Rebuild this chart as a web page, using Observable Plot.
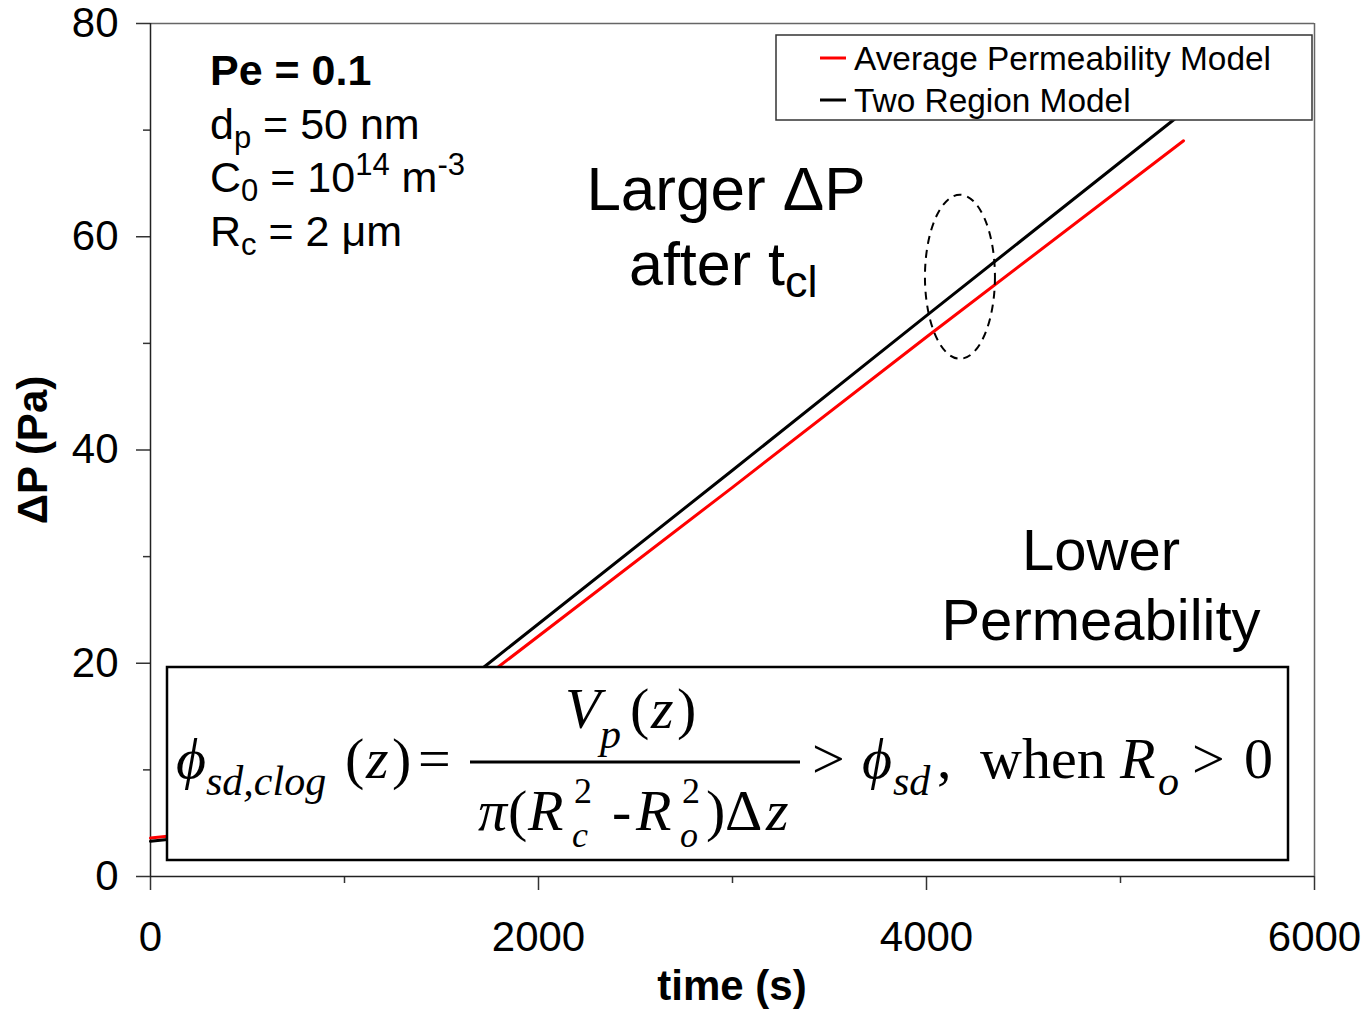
<!DOCTYPE html>
<html>
<head>
<meta charset="utf-8">
<script src="https://cdn.jsdelivr.net/npm/d3@7"></script>
<script src="https://cdn.jsdelivr.net/npm/@observablehq/plot@0.6"></script>
<style>
  html, body { margin: 0; padding: 0; background: #fff; }
  #chart { width: 1372px; height: 1009px; }
</style>
</head>
<body>
<div id="chart"></div>
<script>
// ---- data ----
const seriesNames = ["Average Permeability Model", "Two Region Model"];
const seriesColors = ["#ff0000", "#000000"];
const timeAvg = [0, 100, 500, 900, 1300, 1789, 3000, 4000, 5325];
const dpAvg   = [3.6, 3.8, 5.0, 8.0, 12.8, 19.6, 36.5, 50.6, 69.0];
const timeTwo = [0, 100, 500, 900, 1300, 1716, 3000, 4000, 5325];
const dpTwo   = [3.3, 3.5, 4.8, 7.8, 13.2, 19.6, 38.1, 52.6, 71.7];
const xMajorTicks = [0, 2000, 4000, 6000];
const xMinorTicks = [1000, 3000, 5000];
const yMajorTicks = [0, 20, 40, 60, 80];
const yMinorTicks = [10, 30, 50, 70];

const avgData = timeAvg.map((t, i) => ({time: t, dp: dpAvg[i], series: seriesNames[0]}));
const twoData = timeTwo.map((t, i) => ({time: t, dp: dpTwo[i], series: seriesNames[1]}));

const FONT = "'Liberation Sans', Arial, sans-serif";
const SERIF = "'Liberation Serif', 'Times New Roman', serif";

const plot = Plot.plot({
  width: 1372, height: 1009,
  marginLeft: 150, marginRight: 58, marginTop: 23, marginBottom: 133,
  style: {fontFamily: FONT, background: "#fff", color: "#000", overflow: "visible"},
  x: {domain: [0, 6000]},
  y: {domain: [0, 80]},
  marks: [
    Plot.ruleY([80], {stroke: "#666", strokeWidth: 1.5}),
    Plot.ruleX([6000], {stroke: "#666", strokeWidth: 1.5}),
    Plot.axisX({ticks: xMinorTicks, tickSize: 7, text: null, stroke: "#333", strokeWidth: 1.5, label: null}),
    Plot.axisY({ticks: yMinorTicks, tickSize: 7, text: null, stroke: "#333", strokeWidth: 1.5, label: null}),
    Plot.axisX({ticks: xMajorTicks, tickSize: 14, tickPadding: 31, fontSize: 42, stroke: "#333", strokeWidth: 1.5, fill: "#000", label: null, tickFormat: d => String(d)}),
    Plot.axisY({ticks: yMajorTicks, tickSize: 14, tickPadding: 18, fontSize: 42, stroke: "#333", strokeWidth: 1.5, fill: "#000", label: null, tickFormat: d => String(d)}),
    Plot.ruleX([0], {stroke: "#222", strokeWidth: 1.5}),
    Plot.ruleY([0], {stroke: "#222", strokeWidth: 1.5}),
    Plot.line(avgData, {x: "time", y: "dp", stroke: seriesColors[0], strokeWidth: 3}),
    Plot.line(twoData, {x: "time", y: "dp", stroke: seriesColors[1], strokeWidth: 3})
  ]
});
document.getElementById("chart").appendChild(plot);

const svg = d3.select(plot);
const xs = plot.scale("x"), ys = plot.scale("y");

function txt(x, y, str, o = {}) {
  return svg.append("text")
    .attr("x", x).attr("y", y)
    .attr("font-family", o.family || FONT)
    .attr("font-size", o.size || 42)
    .attr("font-weight", o.weight || "normal")
    .attr("font-style", o.italic ? "italic" : "normal")
    .attr("text-anchor", o.anchor || "start")
    .attr("fill", "#000")
    .text(str);
}

// axis titles
txt(732, 1000, "time (s)", {weight: "bold", anchor: "middle", size: 42});
svg.append("text")
  .attr("transform", "translate(47,450) rotate(-90)")
  .attr("font-family", FONT).attr("font-size", 42).attr("font-weight", "bold")
  .attr("text-anchor", "middle").text("ΔP (Pa)");

// dashed ellipse
svg.append("ellipse")
  .attr("cx", xs.apply(4175)).attr("cy", ys.apply(56.2))
  .attr("rx", 35).attr("ry", 82)
  .attr("fill", "none").attr("stroke", "#000").attr("stroke-width", 2)
  .attr("stroke-dasharray", "8,6");

// legend
svg.append("rect").attr("x", 776).attr("y", 35).attr("width", 536).attr("height", 85)
  .attr("fill", "#fff").attr("stroke", "#333").attr("stroke-width", 1.5);
seriesNames.forEach((name, i) => {
  const y = 58 + i * 42;
  svg.append("line").attr("x1", 820).attr("x2", 846).attr("y1", y).attr("y2", y)
    .attr("stroke", seriesColors[i]).attr("stroke-width", 3);
  txt(854, y + 12, name, {size: 33.4});
});

// parameter block
txt(210, 85, "Pe = 0.1", {weight: "bold", size: 43});
{
  const t = txt(210, 139, "d", {size: 43});
  t.append("tspan").attr("font-size", 31).attr("dy", 9).text("p");
  t.append("tspan").attr("dy", -9).text(" = 50 nm");
}
{
  const t = txt(210, 192, "C", {size: 43});
  t.append("tspan").attr("font-size", 31).attr("dy", 9).text("0");
  t.append("tspan").attr("dy", -9).text(" = 10");
  t.append("tspan").attr("font-size", 31).attr("dy", -17).text("14");
  t.append("tspan").attr("dy", 17).text(" m");
  t.append("tspan").attr("font-size", 31).attr("dy", -17).text("-3");
}
{
  const t = txt(210, 246, "R", {size: 43});
  t.append("tspan").attr("font-size", 31).attr("dy", 9).text("c");
  t.append("tspan").attr("dy", -9).text(" = 2 μm");
}

// annotations
txt(726, 210, "Larger ΔP", {size: 62, anchor: "middle"});
{
  const t = txt(629, 285, "after t", {size: 61});
  t.append("tspan").attr("font-size", 45).attr("dy", 12).text("cl");
}
txt(1101, 570, "Lower", {size: 58, anchor: "middle"});
txt(1101, 640, "Permeability", {size: 58, anchor: "middle"});

// equation box
svg.append("rect").attr("x", 167).attr("y", 667).attr("width", 1121).attr("height", 193)
  .attr("fill", "#fff").attr("stroke", "#000").attr("stroke-width", 2.5);

const S = 58, s = 42, ss = 36, B = 778;
const E = (x, y, str, size, italic, anchor) => txt(x, y, str, {family: SERIF, size, italic, anchor});
// left side
E(176, B, "ϕ", S, true);
E(206, B + 17, "sd,clog", s, true);
E(345, B, "(", S, false);
E(366, B, "z", S, true);
E(392, B, ")", S, false);
E(418, B, "=", S, false);
// fraction
svg.append("line").attr("x1", 470).attr("x2", 800).attr("y1", 762).attr("y2", 762)
  .attr("stroke", "#000").attr("stroke-width", 3);
E(565, 728, "V", S, true);
E(600, 748, "p", s, true);
E(630, 728, "(", S, false);
E(651, 728, "z", S, true);
E(677, 728, ")", S, false);
// denominator
const D = 830;
E(478, D, "π", S, true);
E(508, D, "(", S, false);
E(528, D, "R", S, true);
E(574, D - 27, "2", ss, false);
E(572, D + 17, "c", ss, true);
E(612, D, "-", S, false);
E(636, D, "R", S, true);
E(682, D - 27, "2", ss, false);
E(680, D + 17, "o", ss, true);
E(706, D, ")", S, false);
E(725, D, "Δ", S, false);
E(766, D, "z", S, true);
// right side
E(812, B, ">", S, false);
E(862, B, "ϕ", S, true);
E(893, B + 17, "sd", s, true);
E(937, B, ",", S, false);
E(980, B, "when", S, false);
E(1120, B, "R", S, true);
E(1158, B + 17, "o", s, true);
E(1192, B, ">", S, false);
E(1244, B, "0", S, false);
</script>
</body>
</html>
